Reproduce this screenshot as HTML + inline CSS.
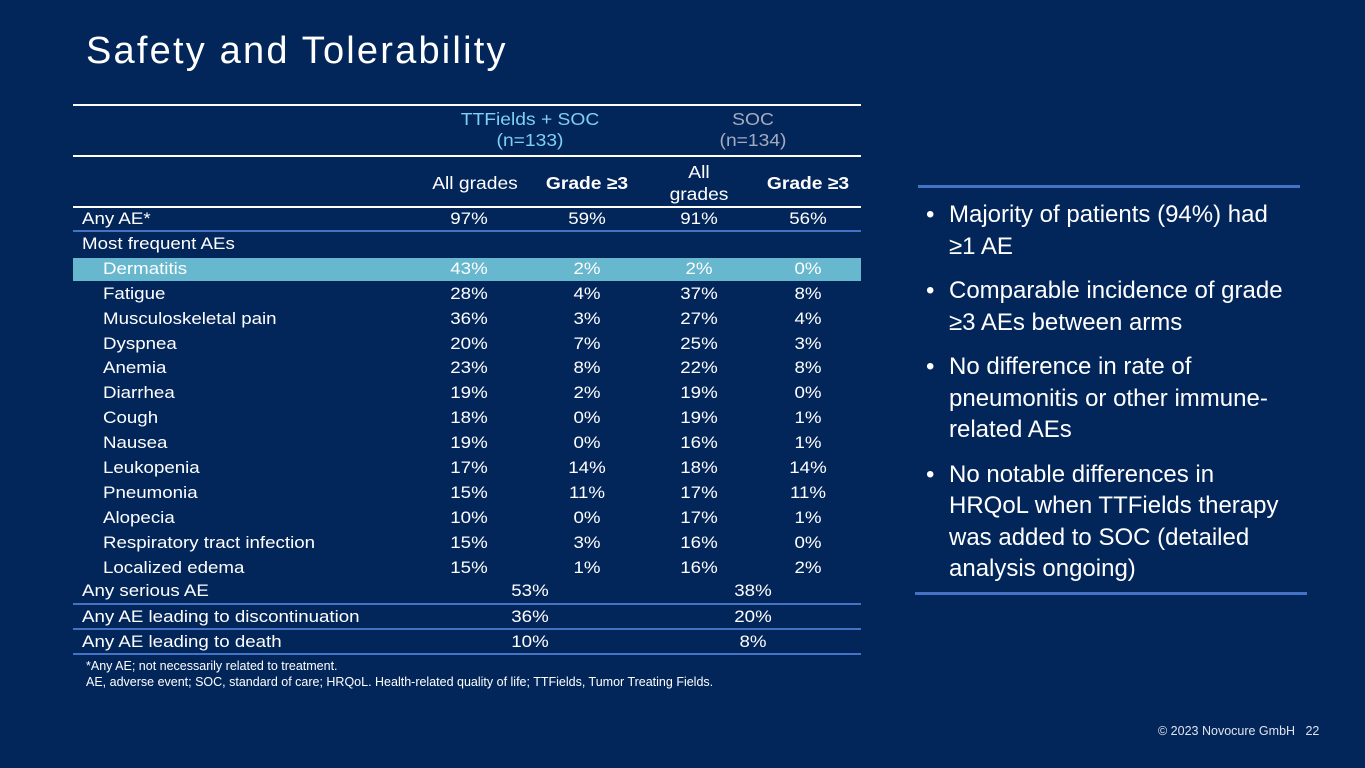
<!DOCTYPE html>
<html><head><meta charset="utf-8"><style>
body{margin:0;width:1365px;height:768px;background:#03265a;font-family:"Liberation Sans",sans-serif;color:#fff;position:relative;overflow:hidden}
.a{position:absolute;white-space:nowrap}
.t{font-size:17px;transform:scaleX(1.1);transform-origin:left center}
.c{transform:translateX(-50%) scaleX(1.1);transform-origin:center;text-align:center}
.hl{position:absolute;left:73px;width:788px;height:2px}
</style></head><body>
<div class="a" style="left:86px;top:30px;font-size:38px;letter-spacing:2.2px">Safety and Tolerability</div>
<div>
<div class="hl" style="top:104px;background:#fff"></div>
<div class="hl" style="top:155px;background:#fff"></div>
<div class="hl" style="top:206px;background:#fff"></div>
<div class="a c" style="left:530px;top:109px;color:#7fd0f0;line-height:21px;font-size:17.5px">TTFields + SOC<br>(n=133)</div>
<div class="a c" style="left:753px;top:109px;color:#a4abbd;line-height:21px;font-size:17.5px">SOC<br>(n=134)</div>
<div class="a c" style="left:475px;top:173px;font-size:17.5px">All grades</div>
<div class="a c" style="left:587px;top:173px;font-size:17.5px;font-weight:bold">Grade ≥3</div>
<div class="a c" style="left:699px;top:161px;font-size:17.5px;line-height:22px">All<br>grades</div>
<div class="a c" style="left:808px;top:173px;font-size:17.5px;font-weight:bold">Grade ≥3</div>
<div id="rows"></div>
</div>
<div class="a" style="left:86px;top:658px;font-size:12.5px;line-height:16px">*Any AE; not necessarily related to treatment.<br>AE, adverse event; SOC, standard of care; HRQoL. Health-related quality of life; TTFields, Tumor Treating Fields.</div>
<div class="a" style="left:918px;top:185px;width:382px;height:3px;background:#4472c4"></div>
<div class="a" style="left:915px;top:592px;width:392px;height:3px;background:#4472c4"></div>
<div class="a" style="left:926px;top:199px;width:380px;white-space:normal;font-size:24px;line-height:31.5px">
<div style="position:relative;padding-left:23px;margin-bottom:13px"><span style="position:absolute;left:0">•</span>Majority of patients (94%) had<br>≥1 AE</div>
<div style="position:relative;padding-left:23px;margin-bottom:13px"><span style="position:absolute;left:0">•</span>Comparable incidence of grade ≥3 AEs between arms</div>
<div style="position:relative;padding-left:23px;margin-bottom:13px"><span style="position:absolute;left:0">•</span>No difference in rate of pneumonitis or other immune-related AEs</div>
<div style="position:relative;padding-left:23px"><span style="position:absolute;left:0">•</span>No notable differences in<br>HRQoL when TTFields therapy was added to SOC (detailed analysis ongoing)</div>
</div>
<div class="a" style="left:1158px;top:724px;font-size:12.5px;color:#dfe4ee">© 2023 Novocure GmbH &nbsp;&nbsp;22</div>
<script>
const names=["Any AE*","Most frequent AEs","Dermatitis","Fatigue","Musculoskeletal pain","Dyspnea","Anemia","Diarrhea","Cough","Nausea","Leukopenia","Pneumonia","Alopecia","Respiratory tract infection","Localized edema"];
const vals=[["97%","59%","91%","56%"],null,["43%","2%","2%","0%"],["28%","4%","37%","8%"],["36%","3%","27%","4%"],["20%","7%","25%","3%"],["23%","8%","22%","8%"],["19%","2%","19%","0%"],["18%","0%","19%","1%"],["19%","0%","16%","1%"],["17%","14%","18%","14%"],["15%","11%","17%","11%"],["10%","0%","17%","1%"],["15%","3%","16%","0%"],["15%","1%","16%","2%"]];
const sumNames=["Any serious AE","Any AE leading to discontinuation","Any AE leading to death"];
const sumVals=[["53%","38%"],["36%","20%"],["10%","8%"]];
const R=document.getElementById('rows');
const cols=[469,587,699,808];
function txt(s,x,y,cls,name){const d=document.createElement('div');d.className='a '+(cls||'t');d.style.fontSize='17px';d.style.left=x+'px';d.style.top=(y-10)+'px';d.textContent=s;


R.appendChild(d);}
names.forEach((n,i)=>{const y=219+i*24.9;
if(i==2){const b=document.createElement('div');b.className='a';b.style.cssText='left:73px;top:258px;width:788px;height:23px;background:#67b7ce';


R.appendChild(b);}
txt(n,i<2?82:103,y,'t','row-label');
if(vals[i])vals[i].forEach((v,j)=>txt(v,cols[j],y,'c','cell-value'));
if(i==0){const l=document.createElement('div');l.className='hl';l.style.top='230px';l.style.background='#4472c4';


R.appendChild(l);}
});
sumNames.forEach((n,i)=>{const y=591+i*25.5;txt(n,82,y,'t','summary-label');
txt(sumVals[i][0],530,y,'c','summary-value');txt(sumVals[i][1],753,y,'c','summary-value');
const l=document.createElement('div');l.className='hl';l.style.top=(603+i*25)+'px';l.style.background='#4472c4';


R.appendChild(l);});
</script>
</body></html>
